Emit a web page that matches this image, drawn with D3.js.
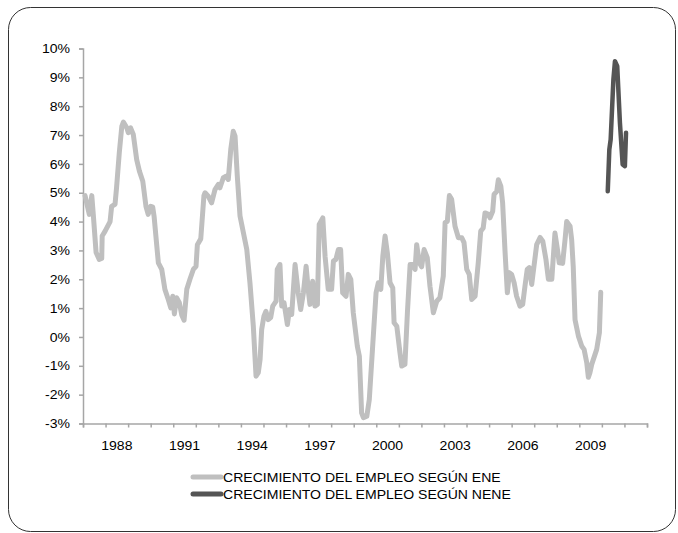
<!DOCTYPE html>
<meta charset="utf-8">
<style>
body { margin: 0; background: #fff; }
text { font-family: "Liberation Sans", Arial, sans-serif; fill: #000; }
.axis path, .axis line { stroke: #a6a6a6; stroke-width: 1.5; }
.axis text { font-size: 13px; }
</style>
<svg width="678" height="533"></svg>
<script src="https://d3js.org/d3.v7.min.js"></script>
<script>

// ENE series: fecha (decimal year) and crecimiento del empleo (%)
var eneFechas = [
  1987.09, 1987.28, 1987.39, 1987.46, 1987.58, 1987.72, 1987.83, 1987.85, 1987.98, 1988.20,
  1988.27, 1988.42, 1988.49, 1988.61, 1988.72, 1988.79, 1988.94, 1989.01, 1989.11, 1989.23,
  1989.38, 1989.50, 1989.65, 1989.79, 1989.89, 1990.00, 1990.09, 1990.15, 1990.34, 1990.49,
  1990.63, 1990.78, 1990.89, 1990.98, 1991.05, 1991.15, 1991.27, 1991.38, 1991.48, 1991.60,
  1991.74, 1991.89, 1992.01, 1992.07, 1992.22, 1992.36, 1992.41, 1992.55, 1992.70, 1992.85,
  1993.00, 1993.07, 1993.22, 1993.34, 1993.44, 1993.55, 1993.66, 1993.74, 1993.84, 1993.96,
  1994.11, 1994.26, 1994.40, 1994.55, 1994.67, 1994.77, 1994.85, 1994.92, 1995.02, 1995.11,
  1995.21, 1995.32, 1995.41, 1995.56, 1995.61, 1995.73, 1995.81, 1995.91, 1996.06, 1996.15,
  1996.25, 1996.40, 1996.54, 1996.65, 1996.77, 1996.89, 1996.99, 1997.06, 1997.18, 1997.28,
  1997.39, 1997.47, 1997.63, 1997.73, 1997.87, 1998.02, 1998.10, 1998.21, 1998.32, 1998.42,
  1998.51, 1998.66, 1998.76, 1998.87, 1998.98, 1999.16, 1999.25, 1999.35, 1999.43, 1999.58,
  1999.69, 1999.84, 1999.99, 2000.09, 2000.20, 2000.29, 2000.39, 2000.49, 2000.61, 2000.73,
  2000.79, 2000.91, 2001.05, 2001.13, 2001.27, 2001.38, 2001.50, 2001.61, 2001.72, 2001.79,
  2001.91, 2002.01, 2002.12, 2002.26, 2002.38, 2002.53, 2002.68, 2002.82, 2002.97, 2003.05,
  2003.15, 2003.24, 2003.34, 2003.49, 2003.64, 2003.79, 2003.89, 2004.01, 2004.12, 2004.23,
  2004.38, 2004.52, 2004.63, 2004.74, 2004.82, 2004.97, 2005.04, 2005.16, 2005.22, 2005.34,
  2005.41, 2005.52, 2005.60, 2005.71, 2005.81, 2005.90, 2006.00, 2006.11, 2006.22, 2006.37,
  2006.49, 2006.59, 2006.69, 2006.78, 2006.89, 2006.99, 2007.11, 2007.26, 2007.38, 2007.52,
  2007.63, 2007.78, 2007.88, 2007.92, 2008.02, 2008.11, 2008.26, 2008.37, 2008.44, 2008.59,
  2008.66, 2008.73, 2008.81, 2008.96, 2009.11, 2009.21, 2009.33, 2009.40, 2009.47, 2009.55,
  2009.77, 2009.89, 2009.95
];
var eneValores = [
  4.9, 4.25, 4.9, 4.2, 2.93, 2.69, 2.72, 3.5, 3.67, 4.0,
  4.53, 4.6, 5.2, 6.4, 7.3, 7.45, 7.25, 7.08, 7.25, 7.02,
  6.15, 5.75, 5.4, 4.53, 4.25, 4.53, 4.5, 4.19, 2.57, 2.34,
  1.65, 1.3, 1.01, 1.41, 0.8, 1.36, 1.19, 0.75, 0.58, 1.65,
  2.0, 2.34, 2.45, 3.2, 3.4, 4.9, 5.0, 4.88, 4.65, 5.11,
  5.29, 5.17, 5.52, 5.57, 5.46, 6.5, 7.13, 6.96, 5.57, 4.19,
  3.61, 3.03, 1.88, 0.37, -1.36, -1.24, -0.78, 0.26, 0.72, 0.89,
  0.6, 0.67, 1.07, 1.24, 2.34, 2.51, 1.07, 1.19, 0.43, 0.95,
  0.78, 2.51, 1.53, 0.95, 1.53, 2.45, 1.59, 1.13, 1.93, 1.07,
  1.13, 3.9, 4.13, 2.8, 1.65, 1.65, 2.63, 2.69, 3.03, 3.03,
  1.53, 1.41, 2.17, 2.0, 0.84, -0.32, -0.67, -2.63, -2.8, -2.75,
  -2.17, -0.32, 1.53, 1.88, 1.65, 2.8, 3.5, 2.92, 1.88, 1.7,
  0.49, 0.37, -0.55, -1.01, -0.95, 0.84, 2.51, 2.51, 2.34, 3.2,
  2.57, 2.43, 3.03, 2.75, 1.76, 0.84, 1.24, 1.36, 2.11, 3.96,
  4.01, 4.9, 4.77, 3.84, 3.44, 3.44, 3.27, 2.34, 2.17, 1.3,
  1.41, 2.57, 3.67, 3.78, 4.3, 4.25, 4.13, 4.36, 4.94, 5.05,
  5.45, 5.23, 4.65, 2.92, 1.53, 2.23, 2.17, 1.88, 1.41, 1.07,
  1.13, 1.76, 2.34, 2.4, 1.82, 2.45, 3.2, 3.45, 3.32, 2.69,
  2.0, 2.0, 3.15, 3.6, 3.09, 2.57, 2.55, 3.4, 4.0, 3.84,
  3.38, 2.45, 0.6, 0.03, -0.32, -0.43, -0.89, -1.4, -1.24, -0.95,
  -0.43, 0.15, 1.55
];

// NENE series
var neneFechas = [2010.26, 2010.33, 2010.39, 2010.51, 2010.58, 2010.68, 2010.80, 2010.92, 2011.02, 2011.07];
var neneValores = [5.05, 6.5, 6.85, 8.92, 9.56, 9.39, 7.42, 5.98, 5.92, 7.08];

var seriesNombres = ["CRECIMIENTO DEL EMPLEO SEGÚN ENE", "CRECIMIENTO DEL EMPLEO SEGÚN NENE"];
var seriesColores = ["#bfbfbf", "#555555"];

var anioInicio = 1987, anioFin = 2012;
var etiquetasAnios = [1988, 1991, 1994, 1997, 2000, 2003, 2006, 2009];
var ticksY = [-3, -2, -1, 0, 1, 2, 3, 4, 5, 6, 7, 8, 9, 10];

var svg = d3.select("svg");

// rounded frame around the whole figure
svg.append("rect")
    .attr("x", 8.5).attr("y", 7.5)
    .attr("width", 667).attr("height", 524)
    .attr("rx", 22)
    .attr("fill", "none")
    .attr("stroke", "#333")
    .attr("stroke-width", 1);

var margin = {left: 83, top: 48.5, right: 31, bottom: 109.5};
var width = 678 - margin.left - margin.right,
    height = 533 - margin.top - margin.bottom;

var g = svg.append("g")
    .attr("transform", "translate(" + margin.left + "," + margin.top + ")");

var x = d3.scaleLinear().domain([anioInicio, anioFin]).range([0, width]);
var y = d3.scaleLinear().domain([-3, 10]).range([height, 0]);

g.append("g")
    .attr("class", "axis")
    .call(d3.axisLeft(y).tickValues(ticksY).tickFormat(function(d) { return d + "%"; })
      .tickSizeOuter(0).tickSize(4).tickPadding(9));

var ejeX = g.append("g")
    .attr("class", "axis")
    .attr("transform", "translate(0," + height + ")")
    .call(d3.axisBottom(x).tickValues(d3.range(anioInicio, anioFin + 1))
      .tickFormat("").tickSizeOuter(0).tickSize(4));

ejeX.selectAll(".etiqueta")
    .data(etiquetasAnios)
  .enter().append("text")
    .attr("class", "etiqueta")
    .attr("x", function(d) { return x(d + 0.5); })
    .attr("y", 26)
    .attr("text-anchor", "middle")
    .text(function(d) { return d; });

var linea = d3.line()
    .x(function(d) { return x(d[0]); })
    .y(function(d) { return y(d[1]); });

var datosEne = d3.zip(eneFechas, eneValores);
var datosNene = d3.zip(neneFechas, neneValores);

g.append("path")
    .datum(datosEne)
    .attr("fill", "none")
    .attr("stroke", seriesColores[0])
    .attr("stroke-width", 5)
    .attr("stroke-linejoin", "round")
    .attr("stroke-linecap", "round")
    .attr("d", linea);

g.append("path")
    .datum(datosNene)
    .attr("fill", "none")
    .attr("stroke", seriesColores[1])
    .attr("stroke-width", 4.5)
    .attr("stroke-linejoin", "round")
    .attr("stroke-linecap", "round")
    .attr("d", linea);

// legend
var leyenda = svg.append("g").attr("transform", "translate(193,477)");
var item = leyenda.selectAll("g")
    .data(seriesNombres)
  .enter().append("g")
    .attr("transform", function(d, i) { return "translate(0," + (i * 17) + ")"; });

item.append("line")
    .attr("x1", 0).attr("x2", 28)
    .attr("stroke", function(d, i) { return seriesColores[i]; })
    .attr("stroke-width", 5)
    .attr("stroke-linecap", "round");

item.append("text")
    .attr("x", 30)
    .attr("dy", "0.35em")
    .style("font-size", "13px")
    .text(function(d) { return d; });

// the original text is set slightly wide: stretch glyphs a little
svg.selectAll("text").each(function() {
  var t = d3.select(this);
  t.attr("textLength", this.getComputedTextLength() * 1.08)
   .attr("lengthAdjust", "spacingAndGlyphs");
});

</script>
